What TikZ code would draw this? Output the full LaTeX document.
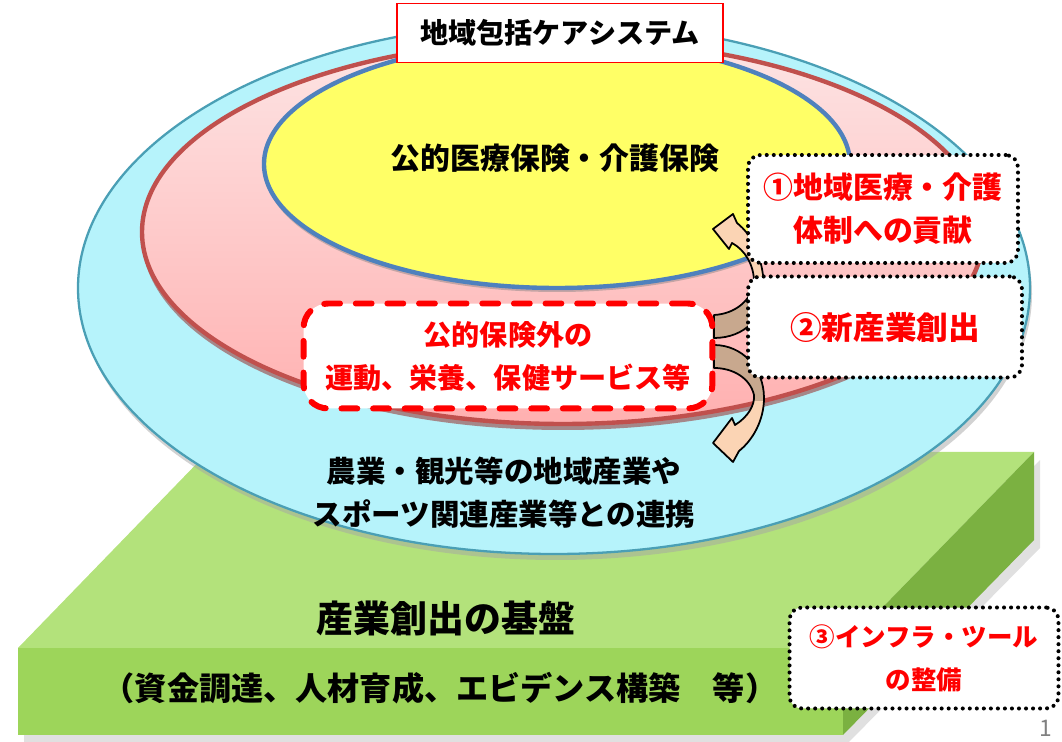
\documentclass[tikz,border=0pt]{standalone}
\usepackage{fontspec}
\setmainfont{Noto Sans CJK JP}
\definecolor{cyanfill}{HTML}{B6F3FB}
\definecolor{cyanrim}{HTML}{4A9FB5}
\definecolor{pinktop}{HTML}{FDE4E4}
\definecolor{pinkbot}{HTML}{FFB0B0}
\definecolor{pinkrim}{HTML}{C0504D}
\definecolor{yellowfill}{HTML}{FFFF66}
\definecolor{bluerim}{HTML}{4F81BD}
\definecolor{greentop}{HTML}{B3E27B}
\definecolor{greenfront}{HTML}{9DD55A}
\definecolor{greenside}{HTML}{7BB141}
\definecolor{bandbrown}{HTML}{C8A88E}
\definecolor{arrowpeach}{HTML}{FBD4B4}
\tikzset{
  jptext/.style={font=\bfseries\fontsize{#1}{24.5}\selectfont, align=center},
  callout/.style={draw=black, fill=white, line width=2.3pt, dash pattern=on 0pt off 4pt,
    line cap=round, rounded corners=7pt, text=red, align=center, inner sep=0pt},
  extbox/.style={draw=red, fill=white, line width=3.4pt, dash pattern=on 9pt off 9pt,
    line cap=round, rounded corners=14pt, text=red, align=center, inner sep=0pt},
  titlebox/.style={draw=red, fill=white, line width=0.8pt, inner sep=0pt},
  curl/.style={draw=black, line width=1pt, fill=bandbrown, line join=round}
}
\begin{document}
\begin{tikzpicture}[x=0.02cm, y=-0.02cm]
\useasboundingbox (0,0) rectangle (1062,742);

% base platform
\fill[gray!40, opacity=0.6] (24,656) -- (850,656) -- (1040,460) -- (1040,548) -- (849,742) -- (24,742) -- cycle;
\fill[greentop] (18,648) -- (843,648) -- (1034,452) -- (208,452) -- cycle;
\fill[greenfront] (18,648) rectangle (843,735);
\fill[greenside] (843,648) -- (1034,452) -- (1034,540) -- (843,735) -- cycle;

% outer ring
\fill[gray!70, opacity=0.5] (556,294) ellipse [x radius=476, y radius=266];
\filldraw[fill=cyanfill, draw=cyanrim, line width=1.3pt] (554,288) ellipse [x radius=476, y radius=266];

% middle ring
\fill[pinkrim!80!black, opacity=0.6] (563,238) ellipse [x radius=421, y radius=192];
\shadedraw[top color=pinktop, bottom color=pinkbot, draw=pinkrim, line width=2.5pt] (563,232) ellipse [x radius=421, y radius=192];

% inner ring
\fill[gray, opacity=0.45] (557,168) ellipse [x radius=293, y radius=124];
\filldraw[fill=yellowfill, draw=bluerim, line width=2.5pt] (557,164) ellipse [x radius=293, y radius=124];

% title
\node[titlebox, minimum width=6.52cm, minimum height=1.18cm, jptext=16] (care) at (560,33) {地域包括ケアシステム};

% ring labels
\node[jptext=17] (insurance) at (555,158) {公的医療保険・介護保険};
\node[jptext=16.8] (local) at (504,493) {農業・観光等の地域産業や\\スポーツ関連産業等との連携};
\node[jptext=21] (base) at (446,618) {産業創出の基盤};
\node[jptext=18.3] (basenote) at (440,688) {（資金調達、人材育成、エビデンス構築　等）};

% curled arrows
\path[curl, path picture={\fill[arrowpeach] (690,190) rectangle (800,281);}]
  (714,338) .. controls (745,338) and (767,316) .. (764,285)
  .. controls (762,255) and (752,235) .. (737,223)
  -- (733,214) -- (713,229) -- (729,249) -- (732,243)
  .. controls (745,250) and (754,265) .. (754,282)
  .. controls (752,300) and (735,314) .. (714,315) -- cycle;
\path[curl, path picture={\fill[arrowpeach] (690,401) rectangle (800,480);}]
  (714,345) .. controls (742,345) and (764,368) .. (764,398)
  .. controls (764,420) and (753,440) .. (739,451)
  -- (733,462) -- (713,443) -- (732,418) -- (735,425)
  .. controls (748,417) and (755,405) .. (754,395)
  .. controls (750,378) and (733,368) .. (714,368) -- cycle;

% outside insurance
\node[extbox, minimum width=8.18cm, minimum height=2.1cm, jptext=16] (extra) at (508,356) {公的保険外の\\運動、栄養、保健サービス等};

% callouts
\node[callout, minimum width=5.4cm, minimum height=2.16cm, jptext=17] (medical) at (883,209) {①地域医療・介護\\体制への貢献};
\node[callout, minimum width=5.48cm, minimum height=2.02cm, jptext=18] (newind) at (885,327) {②新産業創出};
\node[callout, minimum width=5.38cm, minimum height=2.02cm, jptext=14.5] (infra) at (924,658) {③インフラ・ツール\\の整備};

\node[text=gray, font=\fontsize{13}{15}\selectfont] (page) at (1046,728) {1};
\end{tikzpicture}
\end{document}
